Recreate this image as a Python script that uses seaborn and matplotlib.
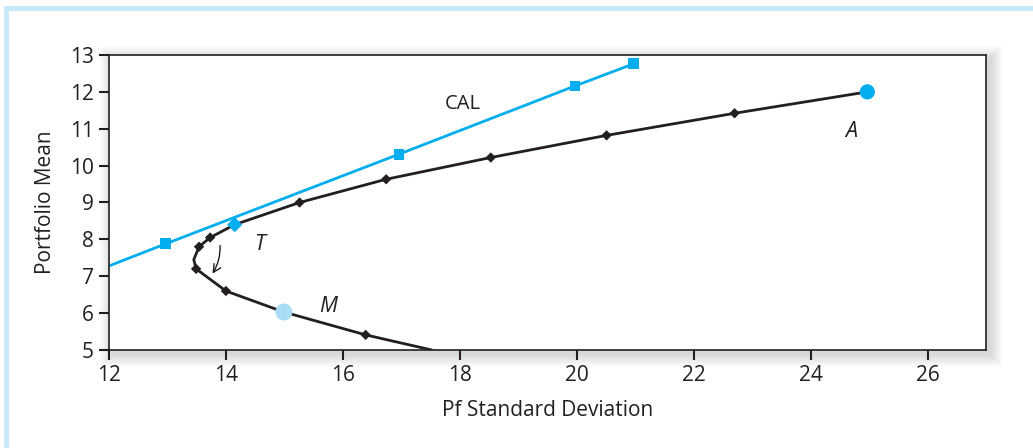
import numpy as np
import pandas as pd
import seaborn as sns
import matplotlib.pyplot as plt
from matplotlib.patches import Rectangle

# data
cal_sd = [12.0, 12.97, 16.96, 19.97, 20.97]
cal_mean = [7.28, 7.88, 10.31, 12.16, 12.76]

# frontier curve, from bottom end to A
frontier_sd = [17.52, 16.39, 14.99, 14.0, 13.49, 13.45, 13.54, 13.73, 14.15, 15.26, 16.74, 18.53, 20.51, 22.7, 24.97]
frontier_mean = [5.0, 5.41, 6.03, 6.6, 7.2, 7.45, 7.8, 8.05, 8.4, 9.0, 9.63, 10.22, 10.82, 11.42, 12.0]

# black diamonds on the frontier
diamond_sd = [16.39, 14.0, 13.49, 13.54, 13.73, 15.26, 16.74, 18.53, 20.51, 22.7]
diamond_mean = [5.41, 6.6, 7.2, 7.8, 8.05, 9.0, 9.63, 10.22, 10.82, 11.42]

# labelled portfolios
t_pt = (14.15, 8.4)
m_pt = (14.99, 6.03)
a_pt = (24.97, 12.0)

x_ticks = [12, 14, 16, 18, 20, 22, 24, 26]
y_ticks = [5, 6, 7, 8, 9, 10, 11, 12, 13]

cyan = '#00AEEF'
light = '#A9DDF6'
ink = '#231F20'

sns.set_theme(style='ticks')
plt.rcParams['font.family'] = ['Open Sans', 'DejaVu Sans']

W, H = 1033, 448
L, R, T, B = 109, 986, 55, 350
fig = plt.figure(figsize=(W / 100, H / 100), dpi=100)
ax = fig.add_axes([L / W, 1 - B / H, (R - L) / W, (B - T) / H])

# light blue frame on top and left of the figure
fig.add_artist(Rectangle((4 / W, 0), 5 / W, 1 - 6 / H, transform=fig.transFigure,
                         color='#C7E9FA', lw=0, zorder=0))
fig.add_artist(Rectangle((4 / W, 1 - 11 / H), 1, 5 / H, transform=fig.transFigure,
                         color='#C7E9FA', lw=0, zorder=0))

# blurred drop shadow behind the plot box
for k in range(1, 14):
    fig.add_artist(Rectangle(((L + 4 - k) / W, 1 - (B + 4 + k) / H),
                             (R - L + 2 * k) / W, (B - T + 2 * k) / H,
                             transform=fig.transFigure, color='black', alpha=0.013, lw=0, zorder=0))
ax.set_zorder(2)

cal = pd.DataFrame({'sd': cal_sd, 'mean': cal_mean})
front = pd.DataFrame({'sd': frontier_sd, 'mean': frontier_mean})
dia = pd.DataFrame({'sd': diamond_sd, 'mean': diamond_mean})

sns.lineplot(data=cal, x='sd', y='mean', sort=False, color=cyan, lw=2, ax=ax)
sns.scatterplot(data=cal.iloc[1:], x='sd', y='mean', marker='s', s=60, color=cyan,
                edgecolor='none', ax=ax, zorder=4)
sns.lineplot(data=front, x='sd', y='mean', sort=False, color=ink, lw=2, ax=ax)
sns.scatterplot(data=dia, x='sd', y='mean', marker='D', s=28, color=ink,
                edgecolor='none', ax=ax, zorder=4)
ax.scatter([t_pt[0]], [t_pt[1]], marker='D', s=60, color=cyan, edgecolor='none', zorder=5)
ax.scatter([m_pt[0]], [m_pt[1]], marker='o', s=150, color=light, edgecolor='none', zorder=5)
ax.scatter([a_pt[0]], [a_pt[1]], marker='o', s=120, color=cyan, edgecolor='none', zorder=5)

ax.text(18.05, 11.67, 'CAL', fontsize=14.5, ha='center', va='center', color=ink)
ax.text(14.58, 7.86, 'T', fontsize=15.5, style='italic', ha='center', va='center', color=ink)
ax.text(15.74, 6.17, 'M', fontsize=15.5, style='italic', ha='center', va='center', color=ink)
ax.text(24.7, 10.93, 'A', fontsize=15.5, style='italic', ha='center', va='center', color=ink)

# small curved arrow inside the frontier bend
ax.annotate('', xy=(13.77, 7.07), xytext=(13.9, 7.83),
            arrowprops=dict(arrowstyle='->', color=ink, lw=1, mutation_scale=14,
                            shrinkA=0, shrinkB=0,
                            connectionstyle='arc3,rad=-0.15'))

ax.set_xlim(12, 27)
ax.set_ylim(5, 13)
ax.set_xticks(x_ticks)
ax.set_yticks(y_ticks)
ax.tick_params(axis='both', direction='out', length=7, width=1.5, color=ink,
               labelsize=15, labelcolor=ink, pad=4)
for sp in ax.spines.values():
    sp.set_color(ink)
    sp.set_linewidth(1.2)
ax.set_xlabel('Pf Standard Deviation', fontsize=15, color=ink, labelpad=10)
ax.set_ylabel('Portfolio Mean', fontsize=15, color=ink, labelpad=10)

fig.savefig('out.png', dpi=100)
